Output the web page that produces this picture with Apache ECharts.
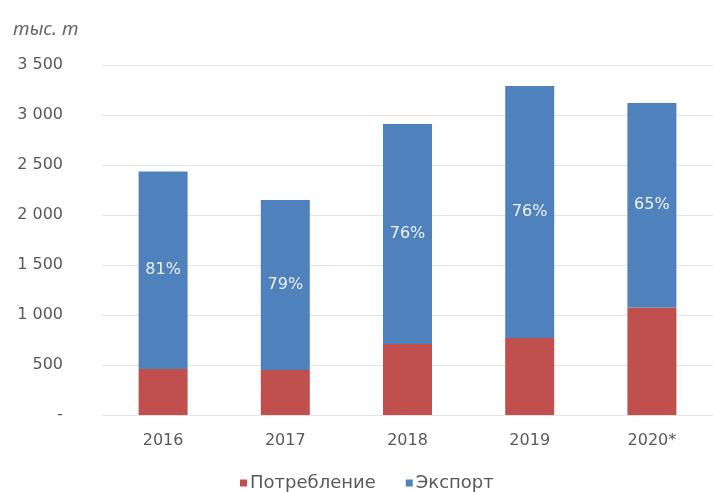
<!DOCTYPE html>
<html>
<head>
<meta charset="utf-8">
<script src="https://cdn.jsdelivr.net/npm/echarts@6/dist/echarts.min.js"></script>
<style>html,body{margin:0;padding:0;background:#fff;}#c{width:713px;height:492px;}</style>
</head>
<body>
<div id="c"></div>
<script>
var categories = ['2016', '2017', '2018', '2019', '2020*'];
var consumption = [460, 450, 710, 770, 1075];
var exportVals = [1975, 1700, 2200, 2520, 2045];
var exportShare = ['81%', '79%', '76%', '76%', '65%'];
var seriesNames = ['Потребление', 'Экспорт'];
var unitLabel = 'тыс. т';

var chart = echarts.init(document.getElementById('c'));
var font = '"DejaVu Sans", sans-serif';
chart.setOption({
  animation: false,
  backgroundColor: '#ffffff',
  title: {
    text: unitLabel,
    left: 8, top: 15,
    textStyle: { fontFamily: '"Noto Sans", "Open Sans", sans-serif', fontStyle: 'italic', fontWeight: 'normal', fontSize: 19, color: '#666666' }
  },
  legend: {
    data: seriesNames,
    top: 469,
    left: 235,
    itemWidth: 7, itemHeight: 7, itemGap: 30,
    icon: 'rect',
    textStyle: { fontFamily: font, fontSize: 18, color: '#595959', padding: [0, 0, 0, -2] }
  },
  grid: { left: 102, right: -2, top: 65, bottom: 77 },
  xAxis: {
    type: 'category',
    data: categories,
    axisLine: { show: false },
    axisTick: { show: false },
    axisLabel: { fontFamily: font, fontSize: 16, color: '#595959', margin: 18 }
  },
  yAxis: {
    type: 'value',
    min: 0, max: 3500, interval: 500,
    axisLine: { show: false },
    axisTick: { show: false },
    splitLine: { lineStyle: { color: '#e4e4e4', width: 1 } },
    axisLabel: {
      fontFamily: font, fontSize: 16, color: '#595959', margin: 39,
      formatter: function (v) {
        if (v === 0) return '-';
        return String(v).replace(/\B(?=(\d{3})+(?!\d))/g, ' ');
      }
    }
  },
  series: [
    {
      name: seriesNames[0], type: 'bar', stack: 't', data: consumption,
      barWidth: 49,
      itemStyle: { color: '#C0504D' }
    },
    {
      name: seriesNames[1], type: 'bar', stack: 't', data: exportVals,
      barWidth: 49,
      itemStyle: { color: '#4F81BD' },
      label: {
        show: true, position: 'inside',
        formatter: function (p) { return exportShare[p.dataIndex]; },
        fontFamily: font, fontSize: 16, color: '#eef3fb'
      }
    }
  ]
});
</script>
</body>
</html>
